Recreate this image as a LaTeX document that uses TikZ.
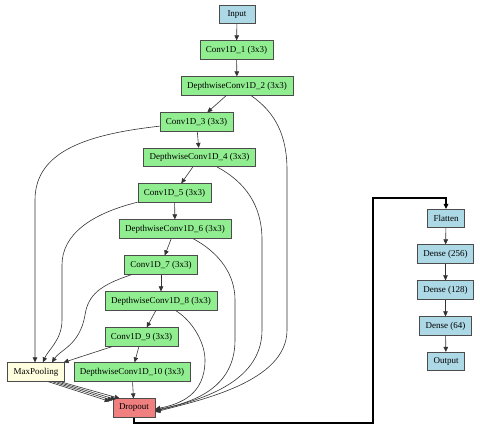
\documentclass[tikz,border=0pt]{standalone}
\usepackage{fontspec}
\setmainfont{Liberation Serif}
\usetikzlibrary{arrows.meta}
\definecolor{lblue}{HTML}{ADD8E6}
\definecolor{lgreen}{HTML}{90EE90}
\definecolor{lyellow}{HTML}{FFFFE0}
\definecolor{lcoral}{HTML}{F08080}
\begin{document}
\begin{tikzpicture}[x=1pt,y=-1pt,
  box/.style={draw=black!70, line width=0.7pt, rectangle, minimum height=18.5pt, minimum width=36pt,
    inner xsep=6pt, inner ysep=0pt, font=\fontsize{9}{10}\selectfont},
  bl/.style={box, fill=lblue},
  gr/.style={box, fill=lgreen},
  yl/.style={box, fill=lyellow},
  rd/.style={box, fill=lcoral},
  edge/.style={draw=black!80, line width=0.6pt, -{Triangle[length=5pt,width=4.5pt]}},
  thick edge/.style={draw=black, line width=1.4pt, -{Triangle[length=5pt,width=4.5pt]}}]
\useasboundingbox (0,0) rectangle (480,429);
% nodes
\node[bl] (in)  at (237,14.5) {Input};
\node[gr] (c1)  at (236.5,50) {Conv1D\_1 (3x3)};
\node[gr] (d2)  at (237,86) {DepthwiseConv1D\_2 (3x3)};
\node[gr] (c3)  at (196.5,122) {Conv1D\_3 (3x3)};
\node[gr] (d4)  at (199.5,157.5) {DepthwiseConv1D\_4 (3x3)};
\node[gr] (c5)  at (174.5,193) {Conv1D\_5 (3x3)};
\node[gr] (d6)  at (175,229) {DepthwiseConv1D\_6 (3x3)};
\node[gr] (c7)  at (161,265) {Conv1D\_7 (3x3)};
\node[gr] (d8)  at (161,301) {DepthwiseConv1D\_8 (3x3)};
\node[gr] (c9)  at (141.5,337) {Conv1D\_9 (3x3)};
\node[yl] (mp)  at (36,372) {MaxPooling};
\node[gr] (d10) at (132,372) {DepthwiseConv1D\_10 (3x3)};
\node[rd] (dr)  at (134,408) {Dropout};
\node[bl] (fl)  at (446,218.5) {Flatten};
\node[bl] (de1) at (445.5,254) {Dense (256)};
\node[bl] (de2) at (445.5,290) {Dense (128)};
\node[bl] (de3) at (445.5,326) {Dense (64)};
\node[bl] (out) at (446,361.5) {Output};
% main chain
\draw[edge] (in) -- (c1);
\draw[edge] (c1) -- (d2);
\draw[edge] (d2) -- (c3);
\draw[edge] (c3) -- (d4);
\draw[edge] (d4) -- (c5);
\draw[edge] (c5) -- (d6);
\draw[edge] (d6) -- (c7);
\draw[edge] (c7) -- (d8);
\draw[edge] (d8) -- (c9);
\draw[edge] (c9) -- (d10);
\draw[edge] (d10) -- (dr);
% conv -> maxpooling
\draw[edge] (c3) .. controls (90,134) and (35,150) .. (35,200) -- ([xshift=-1pt]mp.north);
\draw[edge] (c5) .. controls (90,214) and (62,235) .. (62,265) -- (62,320) .. controls (62,340) and (48,350) .. ([xshift=7pt]mp.north);
\draw[edge] (c7) .. controls (100,285) and (88,295) .. (85,315) .. controls (80,345) and (60,350) .. ([xshift=16pt]mp.north);
\draw[edge] (c9) -- ([xshift=-1pt]mp.north east);
% depthwise -> dropout
\draw[edge] (d2) .. controls (275,112) and (287,135) .. (287,170) -- (287,330) .. controls (287,382) and (200,400) .. ([yshift=-4pt]dr.east);
\draw[edge] (d4) .. controls (245,182) and (262,205) .. (262,240) -- (262,330) .. controls (262,385) and (195,401) .. ([yshift=-3pt]dr.east);
\draw[edge] (d6) .. controls (220,253) and (235,275) .. (235,300) -- (235,340) .. controls (235,390) and (190,403) .. ([yshift=-2pt]dr.east);
\draw[edge] (d8) .. controls (195,323) and (205,345) .. (205,360) .. controls (205,395) and (180,404) .. ([yshift=-1pt]dr.east);
% maxpooling -> dropout (x4)
\draw[edge] ([xshift=12pt]mp.south) -- ([xshift=-3pt,yshift=-3pt]dr.north west);
\draw[edge] ([xshift=16pt]mp.south) -- ([xshift=0pt,yshift=-2pt]dr.north west);
\draw[edge] ([xshift=20pt]mp.south) -- ([xshift=3pt,yshift=-1pt]dr.north west);
\draw[edge] ([xshift=24pt]mp.south) -- ([xshift=7pt,yshift=0pt]dr.north west);
% dropout -> flatten
\coordinate (k1) at (134,423);
\coordinate (k2) at (373,423);
\coordinate (k3) at (373,198);
\coordinate (k4) at (446,198);
\draw[thick edge] (dr.south) -- (k1) -- (k2) -- (k3) -- (k4) -- (fl.north);
% dense chain
\draw[edge] (fl) -- (de1);
\draw[edge] (de1) -- (de2);
\draw[edge] (de2) -- (de3);
\draw[edge] (de3) -- (out);
\end{tikzpicture}
\end{document}
